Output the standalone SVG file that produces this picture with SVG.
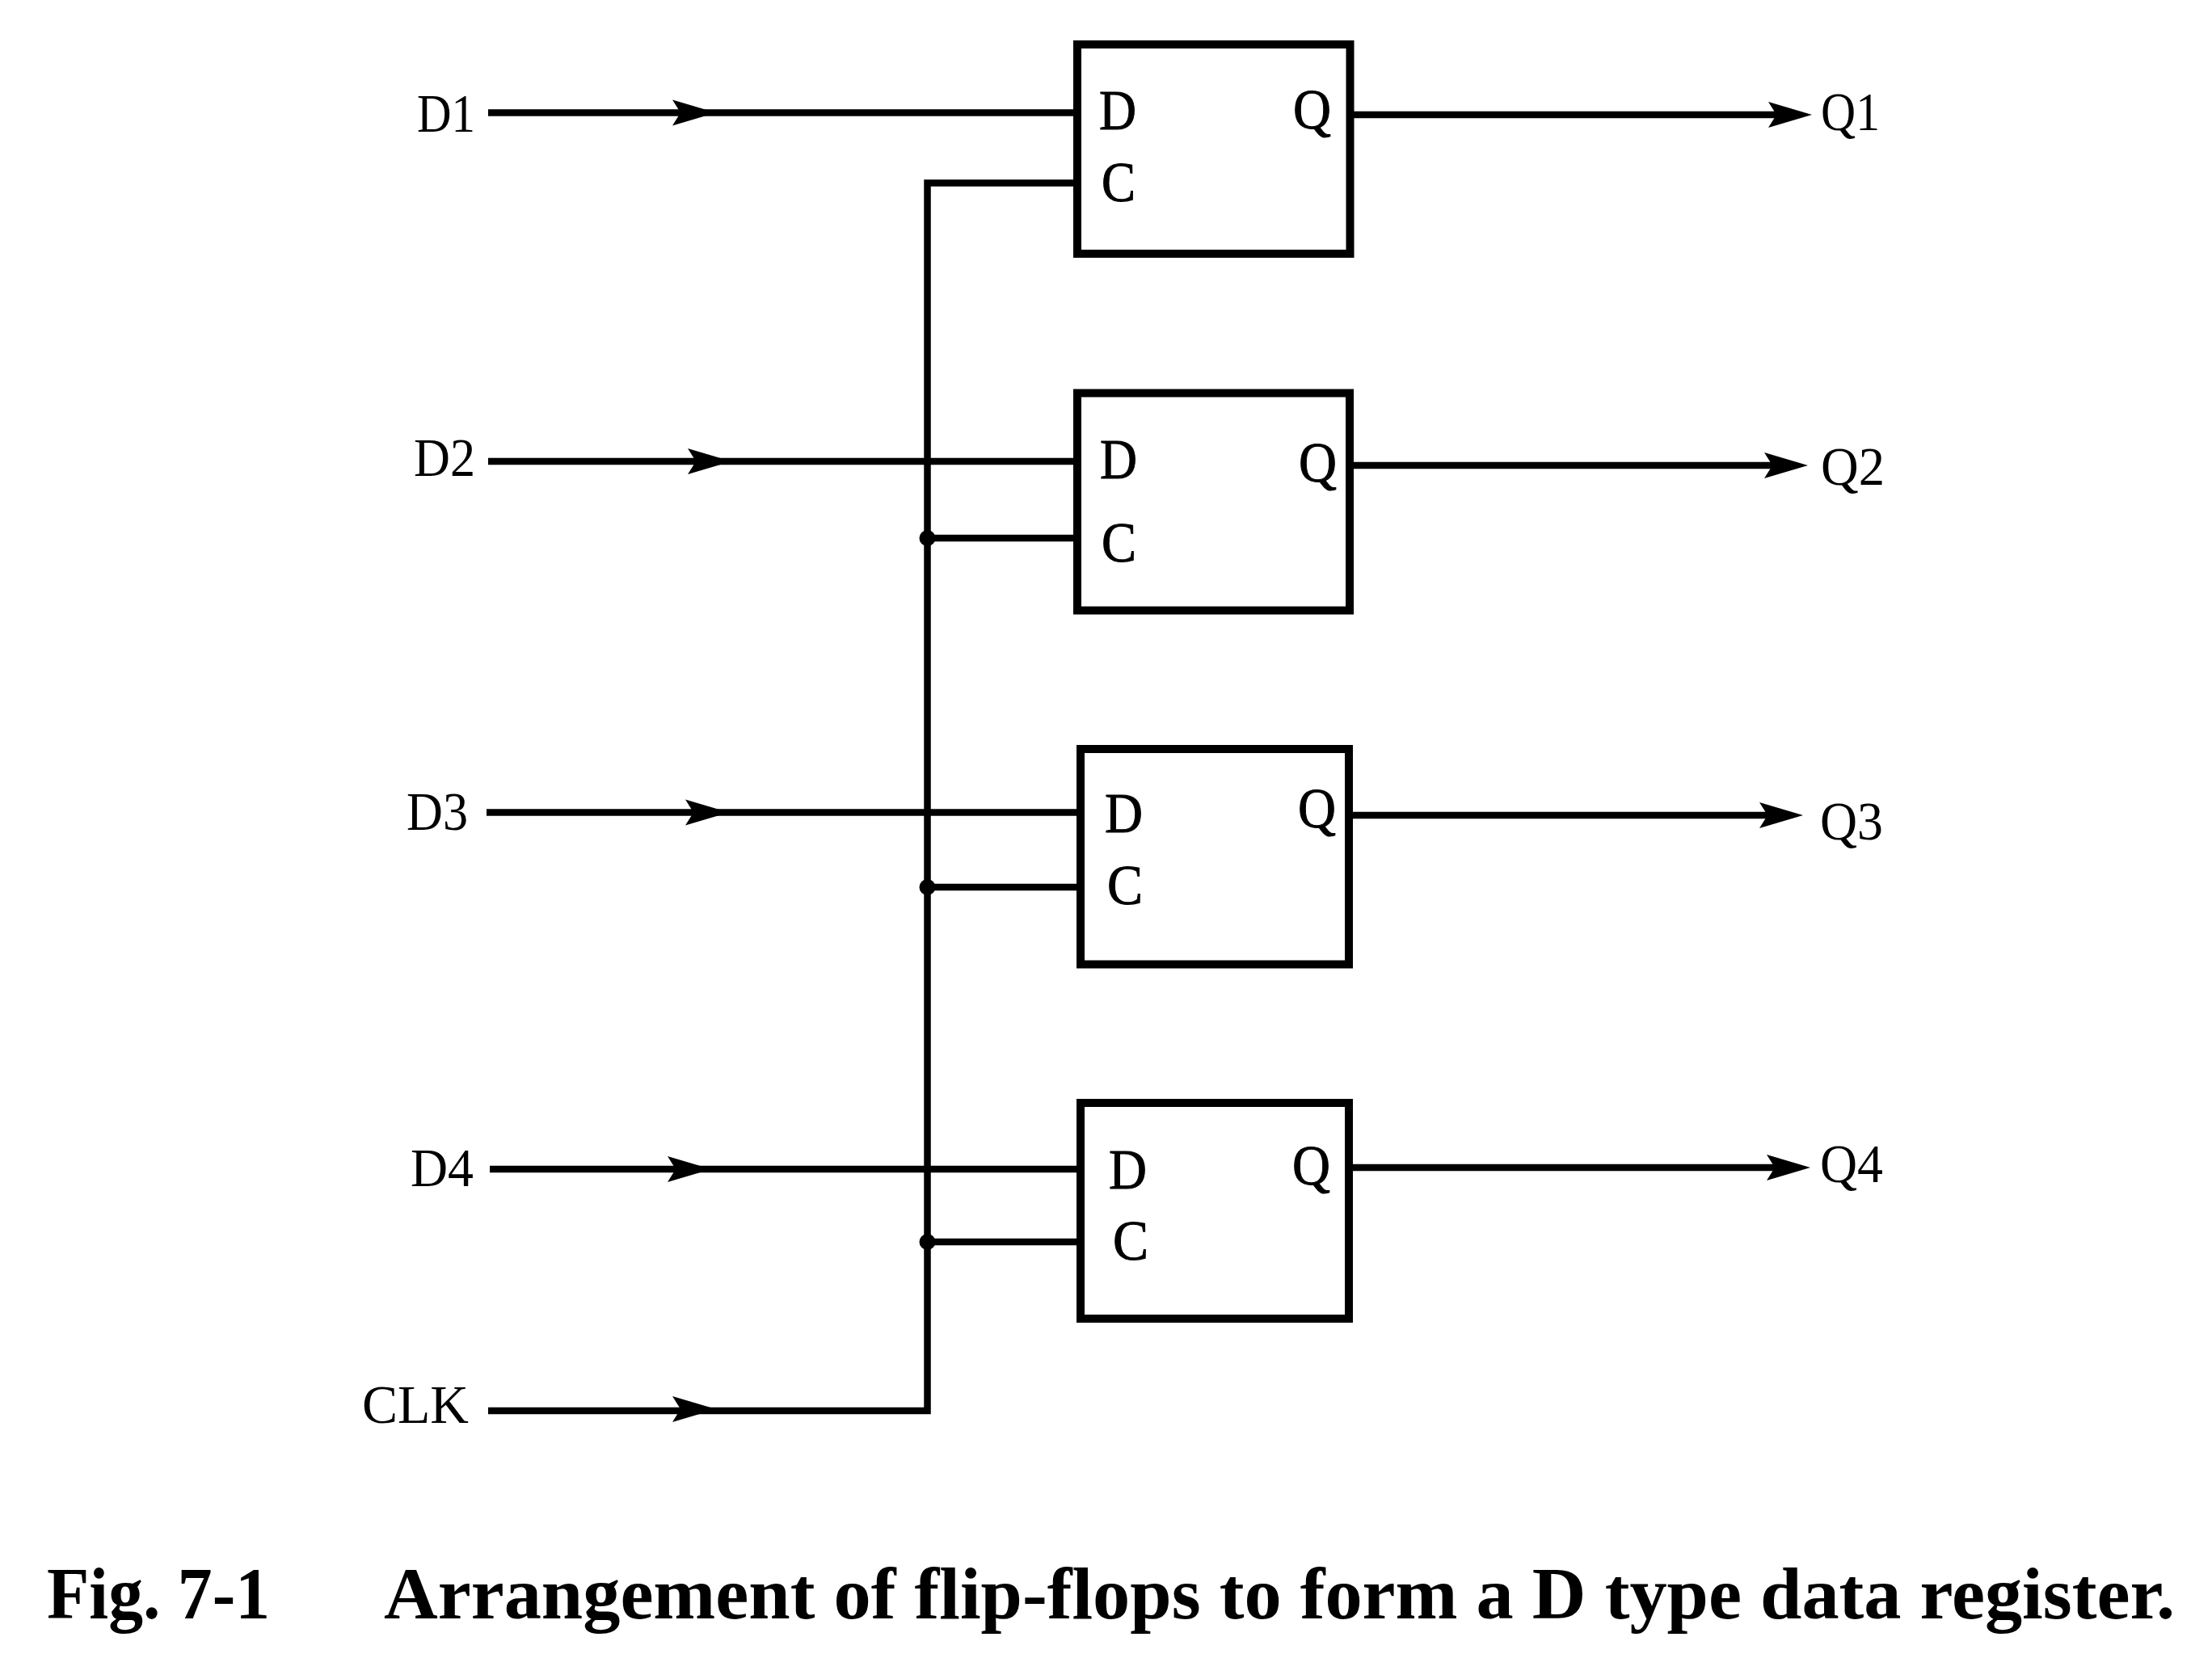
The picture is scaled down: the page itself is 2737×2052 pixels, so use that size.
<svg xmlns="http://www.w3.org/2000/svg" xmlns:xlink="http://www.w3.org/1999/xlink" width="2737" height="2052" viewBox="0 0 2737 2052">
<style>
.wire{fill:none;stroke:#000;stroke-width:8.5;stroke-linejoin:miter}
.box{fill:#fff;stroke:#000;stroke-width:10}
.lbl{font-family:"Liberation Serif","Times New Roman",serif;font-size:68px;fill:#000}
.pin{font-family:"Liberation Serif","Times New Roman",serif;font-size:70px;fill:#000;stroke:#000;stroke-width:1}
.cap{font-family:"Liberation Serif","Times New Roman",serif;font-weight:bold;font-size:90px;fill:#000}
</style>
<defs>
<path id="ah" d="M-54,-16 L0,0 L-54,16 L-44,0 Z" fill="#000"/>
</defs>
<rect width="2737" height="2052" fill="#fff"/>
<g id="ff1"><rect class="box" x="1333" y="55" width="337.5" height="259"/>
<text class="pin" x="1360" y="160" textLength="46" lengthAdjust="spacingAndGlyphs">D</text>
<text class="pin" x="1363" y="249" textLength="42" lengthAdjust="spacingAndGlyphs">C</text>
<text class="pin" x="1600" y="159" textLength="47" lengthAdjust="spacingAndGlyphs">Q</text></g>
<g id="ff2"><rect class="box" x="1333" y="486.5" width="337" height="269"/>
<text class="pin" x="1361" y="592" textLength="46" lengthAdjust="spacingAndGlyphs">D</text>
<text class="pin" x="1363" y="695" textLength="43" lengthAdjust="spacingAndGlyphs">C</text>
<text class="pin" x="1607" y="596" textLength="47" lengthAdjust="spacingAndGlyphs">Q</text></g>
<g id="ff3"><rect class="box" x="1337" y="927" width="332" height="266.5"/>
<text class="pin" x="1367" y="1030" textLength="47" lengthAdjust="spacingAndGlyphs">D</text>
<text class="pin" x="1370" y="1119" textLength="44" lengthAdjust="spacingAndGlyphs">C</text>
<text class="pin" x="1606" y="1024" textLength="47" lengthAdjust="spacingAndGlyphs">Q</text></g>
<g id="ff4"><rect class="box" x="1337" y="1365" width="332" height="267"/>
<text class="pin" x="1372" y="1471" textLength="47" lengthAdjust="spacingAndGlyphs">D</text>
<text class="pin" x="1377" y="1559" textLength="44" lengthAdjust="spacingAndGlyphs">C</text>
<text class="pin" x="1599" y="1466" textLength="47" lengthAdjust="spacingAndGlyphs">Q</text></g>
<g id="connectors">
<path class="wire" d="M604,139.5H1330"/>
<path class="wire" d="M604,571H1330"/>
<path class="wire" d="M602,1005.5H1335"/>
<path class="wire" d="M606,1447H1335"/>
<path class="wire" d="M1330,226.5H1147.5V1746H604"/>
<path class="wire" d="M1147.5,666H1330"/>
<path class="wire" d="M1147.5,1098H1335"/>
<path class="wire" d="M1147.5,1537H1335"/>
<path class="wire" d="M1675,142H2200"/>
<path class="wire" d="M1675,576H2195"/>
<path class="wire" d="M1673,1009H2190"/>
<path class="wire" d="M1673,1445H2200"/>
<circle cx="1147.5" cy="666" r="10"/>
<circle cx="1147.5" cy="1098" r="10"/>
<circle cx="1147.5" cy="1537" r="10"/>
<use href="#ah" x="886" y="139.5"/>
<use href="#ah" x="905" y="571"/>
<use href="#ah" x="902" y="1005.5"/>
<use href="#ah" x="880" y="1447"/>
<use href="#ah" x="886" y="1744"/>
<use href="#ah" x="2242" y="142"/>
<use href="#ah" x="2237" y="576"/>
<use href="#ah" x="2231" y="1009"/>
<use href="#ah" x="2240" y="1445"/>
</g>
<g id="in-d1"><text class="lbl" x="516" y="163" textLength="72" lengthAdjust="spacingAndGlyphs">D1</text></g>
<g id="in-d2"><text class="lbl" x="512" y="589" textLength="76" lengthAdjust="spacingAndGlyphs">D2</text></g>
<g id="in-d3"><text class="lbl" x="503" y="1027" textLength="76" lengthAdjust="spacingAndGlyphs">D3</text></g>
<g id="in-d4"><text class="lbl" x="508" y="1468" textLength="78" lengthAdjust="spacingAndGlyphs">D4</text></g>
<g id="in-clk"><text class="lbl" x="448" y="1761" textLength="132" lengthAdjust="spacingAndGlyphs">CLK</text></g>
<g id="out-q1"><text class="lbl" x="2253" y="161" textLength="73" lengthAdjust="spacingAndGlyphs">Q1</text></g>
<g id="out-q2"><text class="lbl" x="2253" y="600" textLength="79" lengthAdjust="spacingAndGlyphs">Q2</text></g>
<g id="out-q3"><text class="lbl" x="2252" y="1039" textLength="78" lengthAdjust="spacingAndGlyphs">Q3</text></g>
<g id="out-q4"><text class="lbl" x="2252" y="1463" textLength="78" lengthAdjust="spacingAndGlyphs">Q4</text></g>
<g id="caption">
<text class="cap" x="58" y="2003" textLength="276" lengthAdjust="spacingAndGlyphs">Fig. 7-1</text>
<text class="cap" x="475" y="2003" textLength="2216" lengthAdjust="spacingAndGlyphs">Arrangement of flip-flops to form a D type data register.</text>
</g>
</svg>
